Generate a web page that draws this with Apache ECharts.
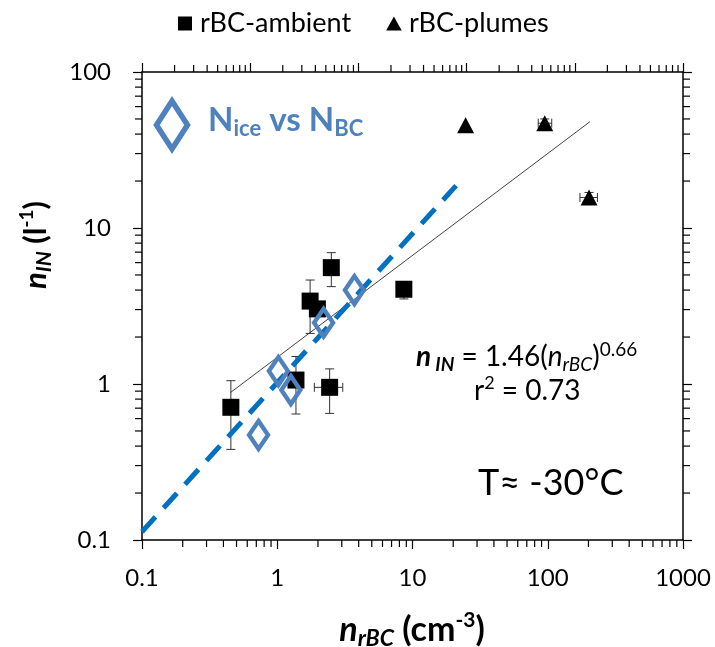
<!DOCTYPE html>
<html>
<head>
<meta charset="utf-8">
<script src="https://cdn.jsdelivr.net/npm/echarts@6/dist/echarts.min.js"></script>
<style>
  html, body { margin: 0; padding: 0; background: #fff; }
  #chart { width: 715px; height: 647px; }
</style>
</head>
<body>
<div id="chart"></div>
<script>
// rBC-ambient squares (value, error bar ends)
var ambientX     = [0.454, 1.375, 2.44, 1.75, 1.98, 2.51, 8.63];
var ambientY     = [0.709, 1.06, 0.952, 3.40, 3.03, 5.57, 4.05];
var ambientXLow  = [0.454, 1.375, 1.88, 1.75, 1.98, 2.51, 8.63];
var ambientXHigh = [0.454, 1.375, 3.05, 1.75, 1.98, 2.51, 8.63];
var ambientYLow  = [0.381, 0.642, 0.648, 2.11, 3.03, 4.21, 3.51];
var ambientYHigh = [1.05, 1.50, 1.25, 4.64, 3.03, 6.95, 4.40];

// rBC-plumes triangles
var plumesX     = [24.7, 95, 202];
var plumesY     = [45.5, 47, 15.7];
var plumesXLow  = [24.7, 85, 173];
var plumesXHigh = [24.7, 107, 233];
var plumesYLow  = [45.5, 45, 15.0];
var plumesYHigh = [45.5, 50, 16.9];

// Nice vs NBC diamonds
var iceX = [0.727, 1.02, 1.26, 2.2, 3.72];
var iceY = [0.471, 1.21, 0.915, 2.47, 4.0];

// power fit (thin) and blue dashed line end points
var fitX = [0.45, 205];
var fitY = [0.88, 48];
var dashX = [0.1, 21];
var dashY = [0.113, 18.7];

// axis ranges
var xRange = [0.1, 1000];
var topRange = [0.01, 1000];
var yRange = [0.1, 100];

function zip(a, b) { return a.map(function (v, i) { return [v, b[i]]; }); }
function errRows(x, y, xl, xh, yl, yh) {
  return x.map(function (v, i) { return [v, y[i], xl[i], xh[i], yl[i], yh[i]]; });
}
// minor ticks 2..9 in every decade
function minors(lo, hi) {
  var out = [];
  for (var d = lo; d < hi * 0.99; d *= 10) {
    for (var k = 2; k <= 9; k++) out.push(+(d * k).toPrecision(3));
  }
  return out;
}

var FONT = 'Lato';
var BLUE = '#4F81BD';

function errRender(params, api) {
  var x = api.value(0), y = api.value(1);
  var xl = api.value(2), xh = api.value(3), yl = api.value(4), yh = api.value(5);
  var st = { stroke: '#333', lineWidth: 1 };
  var kids = [];
  var c = 4.5;
  if (yl !== yh) {
    var a = api.coord([x, yl]), b = api.coord([x, yh]);
    kids.push({ type: 'line', shape: { x1: a[0], y1: a[1], x2: b[0], y2: b[1] }, style: st });
    kids.push({ type: 'line', shape: { x1: a[0] - c, y1: a[1], x2: a[0] + c, y2: a[1] }, style: st });
    kids.push({ type: 'line', shape: { x1: b[0] - c, y1: b[1], x2: b[0] + c, y2: b[1] }, style: st });
  }
  if (xl !== xh) {
    var p = api.coord([xl, y]), q = api.coord([xh, y]);
    kids.push({ type: 'line', shape: { x1: p[0], y1: p[1], x2: q[0], y2: q[1] }, style: st });
    kids.push({ type: 'line', shape: { x1: p[0], y1: p[1] - c, x2: p[0], y2: p[1] + c }, style: st });
    kids.push({ type: 'line', shape: { x1: q[0], y1: q[1] - c, x2: q[0], y2: q[1] + c }, style: st });
  }
  return { type: 'group', children: kids };
}

function tickRender(side) {
  var len = 7;
  return function (params, api) {
    var p = api.coord([api.value(0), api.value(1)]);
    var s;
    if (side === 'bottom') s = { x1: p[0], y1: p[1], x2: p[0], y2: p[1] + len };
    else if (side === 'top') s = { x1: p[0], y1: p[1], x2: p[0], y2: p[1] - len };
    else if (side === 'left') s = { x1: p[0], y1: p[1], x2: p[0] - len, y2: p[1] };
    else s = { x1: p[0], y1: p[1], x2: p[0] + len, y2: p[1] };
    return { type: 'line', shape: s, style: { stroke: '#000', lineWidth: 1.2 } };
  };
}

function tickSeries(side, xi, data) {
  return {
    type: 'custom', xAxisIndex: xi, yAxisIndex: 0, silent: true, z: 1,
    renderItem: tickRender(side), data: data, clip: false
  };
}

var axisLine = { show: true, lineStyle: { color: '#000', width: 1.5 } };
var axisTick = { show: true, inside: false, length: 9, lineStyle: { color: '#000', width: 1.2 } };
var labelFmt = function (v) { return String(Number(v.toPrecision(3))); };

// rich styles for the axis titles
function titleRich(fs) {
  return {
    n: { fontFamily: FONT, fontWeight: 'bold', fontStyle: 'italic', fontSize: fs, lineHeight: fs + 7 },
    s: { fontFamily: FONT, fontWeight: 'bold', fontStyle: 'italic', fontSize: Math.round(fs * 0.68), lineHeight: Math.round(fs * 0.65), verticalAlign: 'bottom' },
    b: { fontFamily: FONT, fontWeight: 'bold', fontSize: fs, lineHeight: fs + 7 },
    sup: { fontFamily: FONT, fontWeight: 'bold', fontSize: Math.round(fs * 0.62), lineHeight: Math.round(fs * 0.62), verticalAlign: 'top' }
  };
}

var chart = echarts.init(document.getElementById('chart'), null, { renderer: 'canvas' });

var option = {
  animation: false,
  backgroundColor: '#fff',
  textStyle: { fontFamily: FONT },
  grid: { left: 142, right: 32, top: 72, bottom: 107, containLabel: false },
  legend: {
    left: 173, top: 5, itemWidth: 20, itemHeight: 14, itemGap: 35,
    selectedMode: false,
    textStyle: { fontFamily: FONT, fontSize: 27, color: '#000' },
    data: [
      { name: 'rBC-ambient', icon: 'path://M0,0H10V10H0Z' },
      { name: 'rBC-plumes', icon: 'path://M5,0L10,9H0Z' }
    ]
  },
  xAxis: [
    {
      type: 'log', logBase: 10, min: xRange[0], max: xRange[1], position: 'bottom',
      axisLine: axisLine, axisTick: axisTick, splitLine: { show: false },
      axisLabel: { fontFamily: FONT, fontSize: 24, color: '#000', margin: 26, formatter: labelFmt }
    },
    {
      type: 'log', logBase: 10, min: topRange[0], max: topRange[1], position: 'top',
      axisLine: axisLine, axisTick: axisTick, splitLine: { show: false },
      axisLabel: { show: false }
    }
  ],
  yAxis: [
    {
      type: 'log', logBase: 10, min: yRange[0], max: yRange[1], position: 'left',
      axisLine: axisLine, axisTick: axisTick, splitLine: { show: false },
      axisLabel: { fontFamily: FONT, fontSize: 24, color: '#000', margin: 31, formatter: labelFmt }
    },
    {
      type: 'log', logBase: 10, min: yRange[0], max: yRange[1], position: 'right',
      axisLine: axisLine, axisTick: axisTick, splitLine: { show: false },
      axisLabel: { show: false }
    }
  ],
  series: [
    tickSeries('bottom', 0, minors(xRange[0], xRange[1]).map(function (v) { return [v, yRange[0]]; })),
    tickSeries('top', 1, minors(topRange[0], topRange[1]).map(function (v) { return [v, yRange[1]]; })),
    tickSeries('left', 0, minors(yRange[0], yRange[1]).map(function (v) { return [xRange[0], v]; })),
    tickSeries('right', 0, minors(yRange[0], yRange[1]).map(function (v) { return [xRange[1], v]; })),
    {
      name: 'fit', type: 'line', data: zip(fitX, fitY), symbol: 'none', silent: true, z: 2,
      lineStyle: { color: '#444', width: 1 }
    },
    {
      type: 'custom', silent: true, z: 3, renderItem: errRender, clip: false,
      data: errRows(ambientX, ambientY, ambientXLow, ambientXHigh, ambientYLow, ambientYHigh)
        .concat(errRows(plumesX, plumesY, plumesXLow, plumesXHigh, plumesYLow, plumesYHigh))
    },
    {
      name: 'rBC-ambient', type: 'scatter', data: zip(ambientX, ambientY), z: 4,
      symbol: 'rect', symbolSize: 17, itemStyle: { color: '#000', opacity: 1 }
    },
    {
      name: 'rBC-plumes', type: 'scatter', data: zip(plumesX, plumesY), z: 4,
      symbol: 'triangle', symbolSize: [17, 16], itemStyle: { color: '#000', opacity: 1 }
    },
    {
      name: 'dash', type: 'line', data: zip(dashX, dashY), symbol: 'none', silent: true, z: 5,
      lineStyle: { color: '#0070C0', width: 5, type: [20, 12], cap: 'butt' }
    },
    {
      name: 'Nice', type: 'scatter', data: zip(iceX, iceY), z: 6,
      symbol: 'diamond', symbolSize: [19, 28],
      itemStyle: { color: 'rgba(0,0,0,0)', borderColor: BLUE, borderWidth: 4.5, opacity: 1 }
    }
  ],
  graphic: [
    {
      type: 'polygon', z: 10,
      shape: { points: [[172, 101], [187.5, 125], [172, 149], [156.5, 125]] },
      style: { fill: 'none', stroke: BLUE, lineWidth: 5.5 }
    },
    {
      type: 'text', x: 208, y: 120, z: 10,
      style: {
        text: '{b|N}{s|ice}{b| vs N}{s|BC}',
        textAlign: 'left', textVerticalAlign: 'middle', align: 'left', verticalAlign: 'middle',
        fill: BLUE, fontFamily: FONT,
        rich: {
          b: { fontFamily: FONT, fontWeight: 'bold', fontSize: 33, lineHeight: 40, fill: BLUE, color: BLUE },
          s: { fontFamily: FONT, fontWeight: 'bold', fontSize: 22, lineHeight: 22, verticalAlign: 'bottom', fill: BLUE, color: BLUE }
        }
      }
    },
    {
      type: 'text', x: 416, y: 357, z: 10,
      style: {
        text: '{bi|n}{bs| IN}{t| = 1.46(}{i|n}{is|rBC}{t|)}{sup|0.66}',
        textAlign: 'left', textVerticalAlign: 'middle', align: 'left', verticalAlign: 'middle',
        fill: '#000', fontFamily: FONT,
        rich: {
          bi: { fontFamily: FONT, fontWeight: 'bold', fontStyle: 'italic', fontSize: 28, lineHeight: 34 },
          bs: { fontFamily: FONT, fontWeight: 'bold', fontStyle: 'italic', fontSize: 19, lineHeight: 18, verticalAlign: 'bottom' },
          t: { fontFamily: FONT, fontSize: 28, lineHeight: 34 },
          i: { fontFamily: FONT, fontStyle: 'italic', fontSize: 28, lineHeight: 34 },
          is: { fontFamily: FONT, fontStyle: 'italic', fontSize: 19, lineHeight: 18, verticalAlign: 'bottom' },
          sup: { fontFamily: FONT, fontSize: 19, lineHeight: 19, verticalAlign: 'top' }
        }
      }
    },
    {
      type: 'text', x: 474, y: 391, z: 10,
      style: {
        text: '{t|r}{sup|2}{t| = 0.73}',
        textAlign: 'left', textVerticalAlign: 'middle', align: 'left', verticalAlign: 'middle',
        fill: '#000', fontFamily: FONT,
        rich: {
          t: { fontFamily: FONT, fontSize: 28, lineHeight: 34 },
          sup: { fontFamily: FONT, fontSize: 18, lineHeight: 18, verticalAlign: 'top' }
        }
      }
    },
    {
      type: 'text', x: 478, y: 483, z: 10,
      style: {
        text: 'T\u2248 -30\u00b0C', fontFamily: FONT, fontSize: 36, fill: '#000',
        textAlign: 'left', textVerticalAlign: 'middle', align: 'left', verticalAlign: 'middle'
      }
    },
    {
      type: 'text', x: 36, y: 245, rotation: Math.PI / 2, z: 10,
      style: {
        text: '{n|n}{s|IN}{b| (l}{sup|-1}{b|)}',
        textAlign: 'center', textVerticalAlign: 'middle', align: 'center', verticalAlign: 'middle',
        fill: '#000', fontFamily: FONT, rich: titleRich(31)
      }
    },
    {
      type: 'text', x: 412, y: 630, z: 10,
      style: {
        text: '{n|n}{s|rBC}{b| (cm}{sup|-3}{b|)}',
        textAlign: 'center', textVerticalAlign: 'middle', align: 'center', verticalAlign: 'middle',
        fill: '#000', fontFamily: FONT, rich: titleRich(34)
      }
    }
  ]
};

chart.setOption(option);
</script>
</body>
</html>
